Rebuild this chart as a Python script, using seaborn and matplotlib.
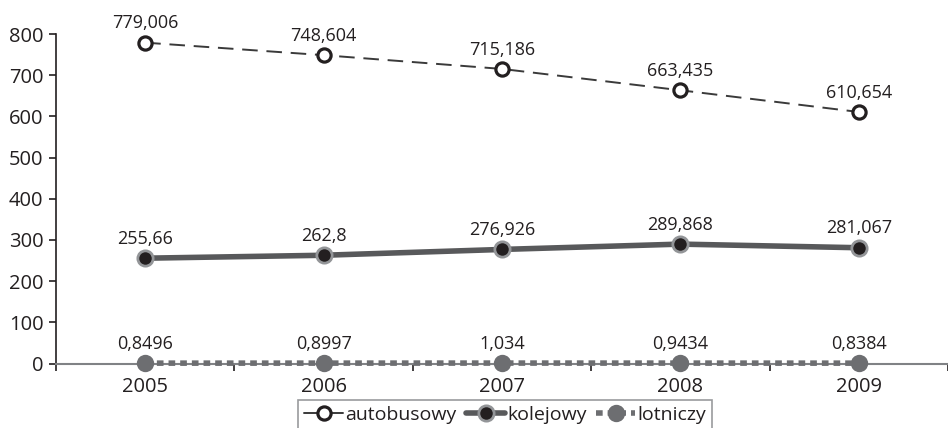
import matplotlib
matplotlib.use("Agg")
import matplotlib.pyplot as plt
from matplotlib.lines import Line2D
import seaborn as sns
import pandas as pd

years = ["2005", "2006", "2007", "2008", "2009"]
autobusowy = [779.006, 748.604, 715.186, 663.435, 610.654]
kolejowy = [255.66, 262.8, 276.926, 289.868, 281.067]
lotniczy = [0.8496, 0.8997, 1.034, 0.9434, 0.8384]
series_names = ["autobusowy", "kolejowy", "lotniczy"]
y_ticks = [0, 100, 200, 300, 400, 500, 600, 700, 800]

sns.set_theme(style="white")
plt.rcParams["font.family"] = ["Open Sans", "DejaVu Sans"]

pos = list(range(len(years)))
df = pd.DataFrame({
    "x": pos * 3,
    "value": autobusowy + kolejowy + lotniczy,
    "series": [n for n in series_names for _ in years],
})

fig = plt.figure(figsize=(9.48, 4.28), dpi=100)
ax = fig.add_axes([56 / 948, 1 - 363.5 / 428, 1 - 56 / 948, (363.5 - 34) / 428])

styles = {
    "autobusowy": dict(color="#3a3a3a", lw=1.4, dashes=(8, 4.5), marker="o", ms=9.5,
                       mfc="white", mec="#231f20", mew=2.3),
    "kolejowy": dict(color="#58595b", lw=4, dashes=None, marker="o", ms=11,
                     mfc="#231f20", mec="#939598", mew=2.0),
    "lotniczy": dict(color="#6d6e71", lw=4, dashes=(1.2, 0.9), marker="o", ms=12.5,
                     mfc="#6d6e71", mec="#6d6e71", mew=0),
}

handles = []
for name in series_names:
    st = styles[name]
    sub = df[df["series"] == name]
    sns.lineplot(data=sub, x="x", y="value", ax=ax, color=st["color"], lw=st["lw"],
                 marker=st["marker"], markersize=st["ms"], markerfacecolor=st["mfc"],
                 markeredgecolor=st["mec"], markeredgewidth=st["mew"],
                 sort=False, legend=False, clip_on=False, zorder=3)
    line = ax.get_lines()[-1]
    if st["dashes"] is not None:
        line.set_dashes(st["dashes"])
    line.set_solid_capstyle("butt")
    line.set_dash_capstyle("butt")
    for xv, yv in zip(sub["x"], sub["value"]):
        ax.annotate(str(yv).replace(".", ","), (xv, yv), xytext=(0, 7.5),
                    textcoords="offset points", ha="center", va="bottom",
                    fontsize=13, color="#231f20")
    h = Line2D([0], [0], color=st["color"], lw=st["lw"], marker=st["marker"],
               markersize=st["ms"], markerfacecolor=st["mfc"],
               markeredgecolor=st["mec"], markeredgewidth=st["mew"])
    if name == "lotniczy":
        h.set_dashes(st["dashes"])
    handles.append(h)

ax.set_xlim(-0.5, 4.467)
ax.set_ylim(0, 800)
ax.set_yticks(y_ticks)
ax.set_xticks(pos)
ax.set_xticklabels(years)
ax.set_xticks([p - 0.5 for p in range(len(years) + 1)], minor=True)
ax.set_xlabel("")
ax.set_ylabel("")

for s in ["top", "right"]:
    ax.spines[s].set_visible(False)
ax.spines["left"].set_color("#231f20")
ax.spines["left"].set_linewidth(1.2)
ax.spines["bottom"].set_color("#808285")
ax.spines["bottom"].set_linewidth(1.5)

ax.tick_params(axis="y", which="major", direction="out", length=5, width=1.2,
               color="#231f20", labelsize=14.5, labelcolor="#231f20", pad=4, left=True)
ax.tick_params(axis="x", which="major", length=0, labelsize=14.5, labelcolor="#231f20", pad=10)
ax.tick_params(axis="x", which="minor", direction="out", length=5, width=1.2,
               color="#231f20", bottom=True)

leg = fig.legend(handles, series_names, loc="center",
                 bbox_to_anchor=(505 / 948, 1 - 415 / 428), ncol=3, frameon=True,
                 fontsize=14, handlelength=2.0, handletextpad=0.1, columnspacing=0.5,
                 borderpad=0.3, fancybox=False, labelcolor="#231f20")
leg.get_frame().set_edgecolor("#808285")
leg.get_frame().set_linewidth(1.2)

fig.savefig("out.png", dpi=100)
